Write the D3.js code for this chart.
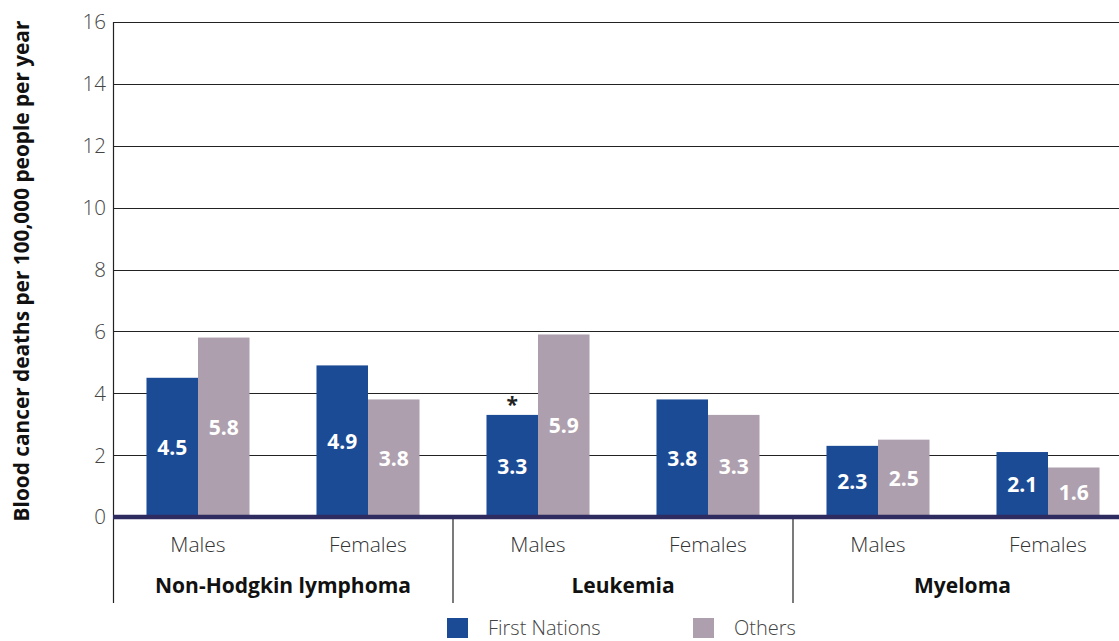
<!DOCTYPE html>
<html><head><meta charset="utf-8">
<script src="https://cdn.jsdelivr.net/npm/d3@7"></script>
<style>body{margin:0;background:#fff;} svg{display:block;font-family:"Open Sans","Noto Sans",sans-serif;}</style>
</head><body>
<svg id="c" width="1119" height="641"></svg>
<script>
const groups = ["Non-Hodgkin lymphoma","Leukemia","Myeloma"];
const sexes = ["Males","Females"];
const series = ["First Nations","Others"];
const firstNations = [4.5,4.9,3.3,3.8,2.3,2.1];
const others = [5.8,3.8,5.9,3.3,2.5,1.6];
const flagged = [false,false,true,false,false,false];
const yTicks = [0,2,4,6,8,10,12,14,16];
const colors = ["#1c4b96","#ae9fae"];

const svg = d3.select("#c");
const mLeft = 113, mRight = 1133, mTop = 22, mBottom = 517;
const y = d3.scaleLinear().domain([0,16]).range([mBottom, mTop]);
const cats = [];
groups.forEach(g => sexes.forEach(s => cats.push(g+"|"+s)));
const xg = d3.scaleBand().domain(groups).range([mLeft,mRight]);
const x = d3.scaleBand().domain(cats).range([mLeft,mRight]).paddingInner(0.394).paddingOuter(0.197);
const xs = d3.scaleBand().domain(series).range([0,x.bandwidth()]);

// grid
svg.append("g").attr("shape-rendering","crispEdges").selectAll("line").data(yTicks.filter(d=>d>0)).join("line")
  .attr("x1",mLeft).attr("x2",1119).attr("y1",d=>Math.round(y(d))+0.5).attr("y2",d=>Math.round(y(d))+0.5)
  .attr("stroke","#222").attr("stroke-width",1);
// tick labels
svg.append("g").selectAll("text").data(yTicks).join("text")
  .attr("x",106).attr("y",d=>y(d)).attr("dy","0.36em").attr("text-anchor","end")
  .attr("font-size",20.5).attr("font-weight",300).attr("fill","#444").text(d=>d);

const data = cats.map((c,i)=>({c, vals:[firstNations[i], others[i]], flag:flagged[i]}));
const cg = svg.append("g").selectAll("g").data(data).join("g").attr("transform",d=>`translate(${x(d.c)},0)`);
cg.selectAll("rect").data(d=>d.vals.map((v,j)=>({v,s:series[j],j}))).join("rect")
  .attr("x",d=>xs(d.s)).attr("width",xs.bandwidth()).attr("y",d=>y(d.v)).attr("height",d=>y(0)-y(d.v))
  .attr("fill",d=>colors[d.j]);
cg.selectAll("text.v").data(d=>d.vals.map((v,j)=>({v,s:series[j],j}))).join("text").attr("class","v")
  .attr("x",d=>xs(d.s)+xs.bandwidth()/2).attr("y",d=>(y(d.v)+y(0))/2).attr("dy","0.36em")
  .attr("text-anchor","middle").attr("font-size",21).attr("font-weight",700).attr("fill","#fff")
  .text(d=>d.v.toFixed(1));
cg.filter(d=>d.flag).append("text").attr("x",xs(series[0])+xs.bandwidth()/2).attr("y",d=>y(d.vals[0])-3)
  .attr("text-anchor","middle").attr("font-size",21).attr("font-weight",700).attr("fill","#222").text("*");

// axis & separators
svg.append("line").attr("x1",mLeft+0.5).attr("x2",mLeft+0.5).attr("y1",mTop).attr("y2",603).attr("stroke","#222").attr("stroke-width",1.2);
svg.append("g").selectAll("line").data(groups.slice(1)).join("line")
  .attr("x1",d=>xg(d)).attr("x2",d=>xg(d)).attr("y1",mBottom).attr("y2",603).attr("stroke","#222").attr("stroke-width",1.2);
svg.append("line").attr("x1",mLeft).attr("x2",1119).attr("y1",y(0)).attr("y2",y(0)).attr("stroke","#2d2b5f").attr("stroke-width",4.5);

// category labels
svg.append("g").selectAll("text").data(cats).join("text")
  .attr("x",d=>x(d)+x.bandwidth()/2).attr("y",552).attr("text-anchor","middle")
  .attr("font-size",21).attr("font-weight",300).attr("fill","#333").text(d=>d.split("|")[1]);
svg.append("g").selectAll("text").data(groups).join("text")
  .attr("x",(d,i)=> i<2 ? xg(d)+xg.bandwidth()/2 : (xg(d)+1119+13)/2 ).attr("y",593).attr("text-anchor","middle")
  .attr("font-size",21).attr("font-weight",700).attr("fill","#111").text(d=>d);

// y title
svg.append("text").attr("transform","translate(29,271) rotate(-90)").attr("text-anchor","middle")
  .attr("font-size",20.8).attr("font-weight",700).attr("fill","#111").text("Blood cancer deaths per 100,000 people per year");

// legend
const lx = [447, 693];
const lg = svg.append("g").selectAll("g").data(series).join("g").attr("transform",(d,i)=>`translate(${lx[i]},618)`);
lg.append("rect").attr("width",21).attr("height",20).attr("fill",(d,i)=>colors[i]);
lg.append("text").attr("x",41).attr("y",10).attr("dy","0.33em").attr("font-size",20).attr("font-weight",300).attr("fill","#444").text(d=>d);
</script>
</body></html>
